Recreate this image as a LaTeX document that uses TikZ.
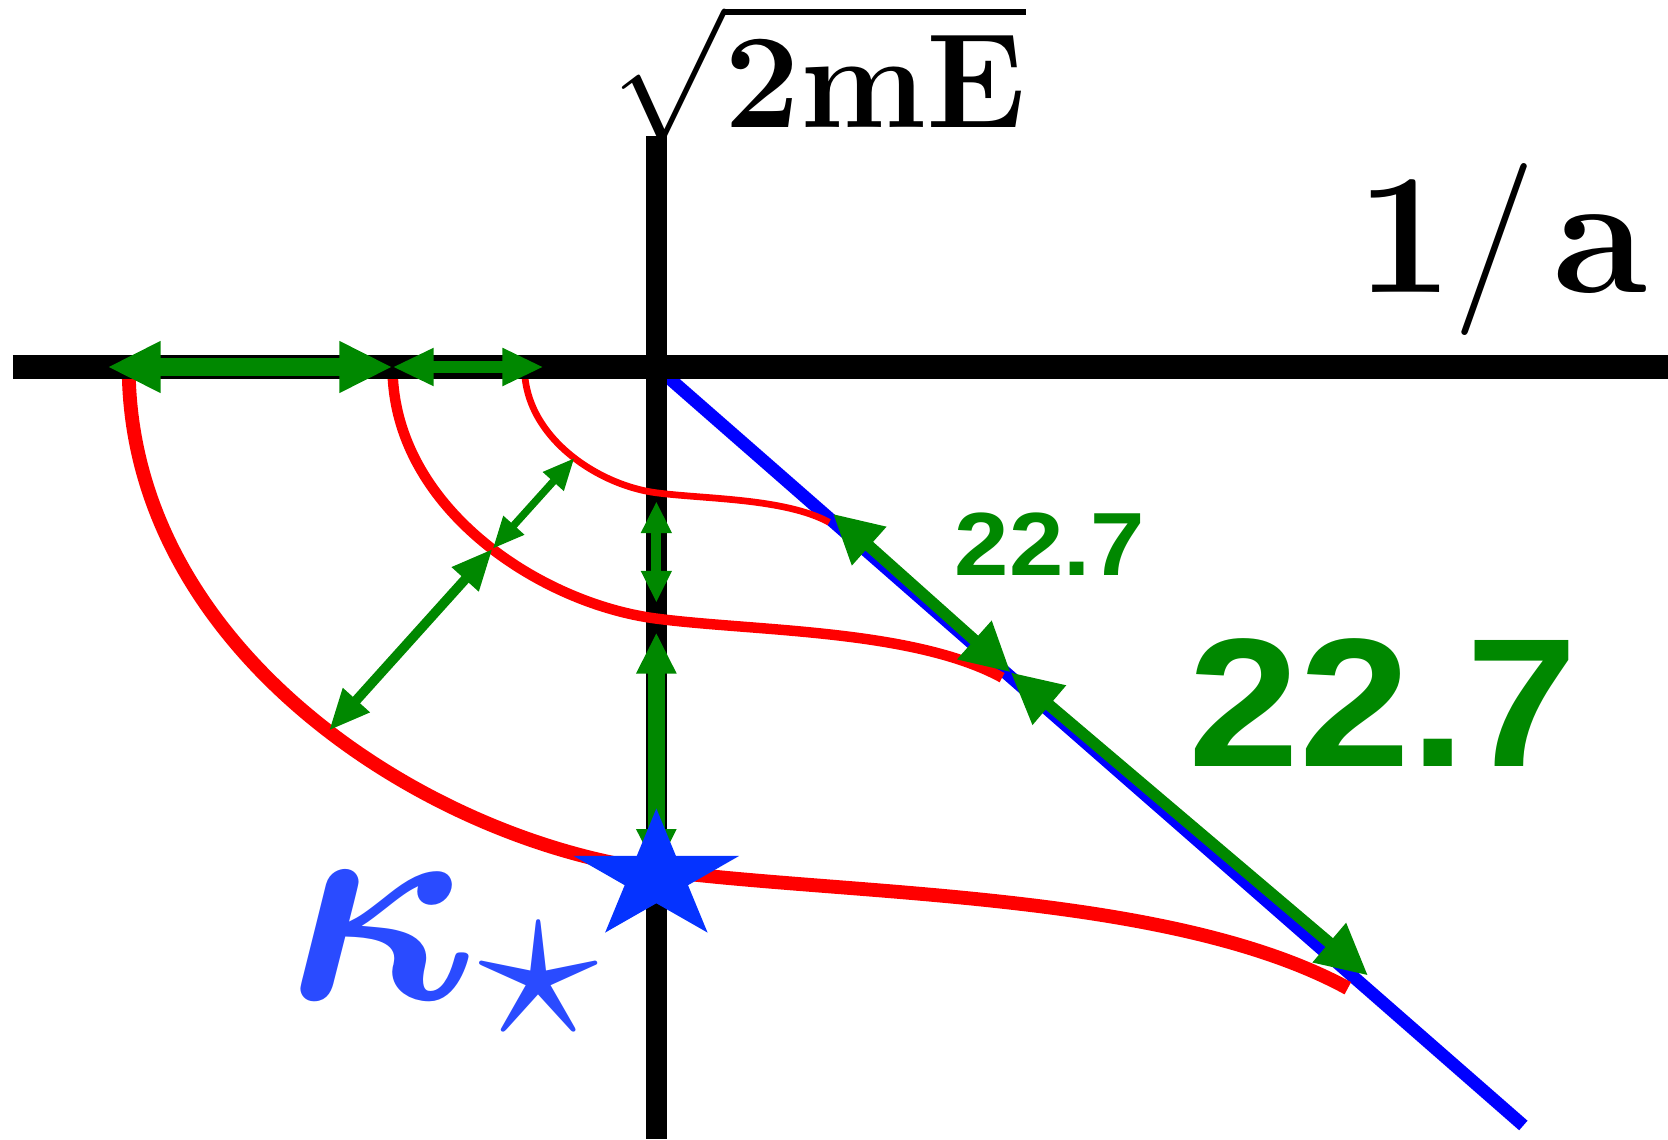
\RequirePackage{fix-cm}
\documentclass[tikz,border=0pt]{standalone}
\usepackage{amsmath}
\usepackage{bm}
\usepackage{graphicx}
\usepackage[no-math]{fontspec}
\newfontfamily\numfont[FakeStretch=1.09]{Liberation Sans}
\usepackage{xcolor}
\definecolor{flowgreen}{HTML}{008800}
\definecolor{flowred}{HTML}{FF0000}
\definecolor{lineblue}{HTML}{0000FF}
\definecolor{starblue}{HTML}{0533FF}
\definecolor{kappablue}{HTML}{2A4BFF}
\usepackage{tikz}
\usetikzlibrary{arrows.meta}

\begin{document}
\begin{tikzpicture}[>=Stealth,
    flowarrow/.style n args={3}{draw=flowgreen, line width=#1,
        arrows={Triangle[length=#2,width=#3]-Triangle[length=#2,width=#3]}}]
    \useasboundingbox (-6.17,-7.26) rectangle (9.51,3.45);

    \coordinate (O) at (0,0);
    \coordinate (xl) at (-6.05,0);
    \coordinate (xr) at (9.51,0);
    \coordinate (ytop) at (0,2.17);
    \coordinate (ybot) at (0,-7.26);
    \coordinate (Fend) at (8.15,-7.13);

    % Fixed line and vertical axis
    \draw[line width=3.4pt, lineblue] (O) -- (Fend);
    \draw[line width=5.8pt] (ytop) -- (ybot);

    % Flow curves, each one half the size of the one before
    \foreach \s/\w in {1/3.7pt, 0.5/2.8pt, 0.25/1.8pt}
        \draw[flowred, line width=\w, scale=\s]
            (-4.96,0) .. controls (-4.96,-2.65) and (-2.17,-4.45) .. (0,-4.73)
            .. controls (1.83,-4.97) and (4.83,-4.93) .. (6.50,-5.84);

    % Horizontal axis
    \draw[line width=6.4pt] (xl) -- (xr);

    % Where the curves meet the axes, the ray and the fixed line
    \coordinate (s1) at (-4.96,0);
    \coordinate (s2) at (-2.48,0);
    \coordinate (s3) at (-1.24,0);
    \coordinate (q1) at (228:4.6);
    \coordinate (q2) at (228:2.3);
    \coordinate (q3) at (228:1.15);
    \coordinate (v1) at (0,-4.73);
    \coordinate (v2) at (0,-2.365);
    \coordinate (v3) at (0,-1.1825);
    \coordinate (f1) at (6.69,-5.72);
    \coordinate (f2) at (3.33,-2.87);
    \coordinate (f3) at (1.66,-1.38);

    % Flow steps
    \draw[flowarrow={4.9pt}{14.2pt}{12.8pt}, shorten <=-2mm] (s1) -- (s2);
    \draw[flowarrow={3.2pt}{11pt}{9.4pt}, shorten >=-1.8mm] (s2) -- (s3);
    \draw[flowarrow={2.6pt}{11pt}{9pt}] (q1) -- (q2);
    \draw[flowarrow={2pt}{8.5pt}{7pt}] (q2) -- (q3);
    \draw[flowarrow={4.5pt}{11pt}{10pt}, shorten >=1.3mm] (v1) -- (v2);
    \draw[flowarrow={2.6pt}{8.5pt}{7.7pt}, shorten <=1.5mm, shorten >=0.8mm] (v2) -- (v3);
    \draw[flowarrow={3.1pt}{13pt}{13pt}] (f3) -- (f2);
    \draw[flowarrow={3.1pt}{13.6pt}{13pt}] (f2) -- (f1);

    % Fixed point (a wide five-pointed star)
    \coordinate (kstar) at (0,-4.795);
    \fill[starblue, shift={(kstar)}, xscale=1.27] (90:0.645)
        \foreach \a in {1,...,9} { -- ({90+36*\a}:{mod(\a,2)==1 ? 0.2464 : 0.645}) } -- cycle;

    % Labels
    \node[kappablue, anchor=base west, inner sep=0pt, font=\fontsize{77}{77}\selectfont]
        (klab) at (-3.48,-5.95)
        {$\bm{\kappa}_{\raisebox{0.6mm}{\scalebox{1.2}{$\scriptstyle\star$}}}$};
    \node[anchor=south west, inner sep=0pt, font=\fontsize{36}{36}\selectfont]
        (ylab) at (-0.42,2.09) {$\sqrt{\mathbf{2mE}}$};
    \node[anchor=base west, inner sep=0pt, font=\fontsize{46}{46}\selectfont]
        (xlab) at (6.57,0.70) {$\mathbf{1}/\kern1.5mm\mathbf{a}$};
    \node[flowgreen, font=\numfont\fontsize{24}{24}\selectfont\bfseries]
        (smallstep) at (3.70,-1.67) {22.7};
    \node[flowgreen, font=\numfont\fontsize{49}{49}\selectfont\bfseries]
        (bigstep) at (6.83,-3.15) {22.7};
\end{tikzpicture}
\end{document}
